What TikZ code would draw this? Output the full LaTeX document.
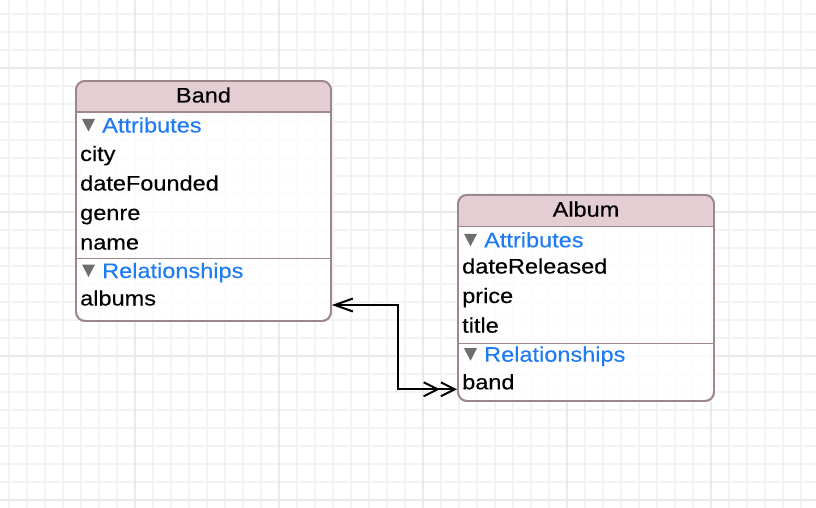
\documentclass[tikz,border=0pt]{standalone}
\usepackage{fontspec}
\setmainfont{Liberation Sans}[FakeStretch=1.12,FakeBold=0.25]
\usetikzlibrary{arrows.meta}
\definecolor{gridminor}{HTML}{F3F3F3}
\definecolor{gridmajor}{HTML}{EAEAEA}
\definecolor{headfill}{HTML}{E4CDD3}
\definecolor{boxline}{HTML}{9D878C}
\definecolor{secblue}{HTML}{1E7BF2}
\definecolor{trigray}{HTML}{6E6E6E}
\tikzset{
  entitybox/.style={draw=boxline, line width=1.8pt, rounded corners=9pt, fill=white, fill opacity=0.8, draw opacity=1, inner sep=0pt},
  headtext/.style={anchor=base, inner sep=0pt, font=\fontsize{21}{24}\selectfont, text=black},
  itemtext/.style={anchor=base west, inner sep=0pt, font=\fontsize{21}{24}\selectfont, text=black},
  sectext/.style={anchor=base west, inner sep=0pt, font=\fontsize{21}{24}\selectfont, text=secblue},
  divline/.style={draw=boxline, line width=1.8pt},
  rel/.style={draw=black, line width=2pt, line join=miter,
    arrows={Straight Barb[length=18pt,width=13pt]-Straight Barb[length=14pt,width=14pt,sep=0pt] Straight Barb[length=14pt,width=14pt,sep=0pt]}}
}
\newcommand{\disclosure}[2]{\fill[trigray] (#1,#2-13.5) -- (#1+13,#2-13.5) -- (#1+6.5,#2-1) -- cycle;}
\begin{document}
\begin{tikzpicture}[x=1pt,y=-1pt]
\useasboundingbox (0,0) rectangle (816,508);
\fill[white] (0,0) rectangle (816,508);
% grid
\foreach \i in {0,...,45} {\draw[gridminor, line width=1.5pt] (9+18*\i,0) -- (9+18*\i,508);}
\foreach \i in {0,...,27} {\draw[gridminor, line width=1.5pt] (0,14+18*\i) -- (816,14+18*\i);}
\foreach \xx in {135,279,423,567,711} {\draw[gridmajor, line width=1.6pt] (\xx,0) -- (\xx,508);}
\foreach \yy in {68,212,356,500} {\draw[gridmajor, line width=1.6pt] (0,\yy) -- (816,\yy);}

% Band entity
\node[entitybox, minimum width=255pt, minimum height=240pt] (bandbox) at (203.5,201) {};
\fill[headfill] (76.9,112) [rounded corners=8pt] -- (76.9,81.9) -- (330.1,81.9) [sharp corners] -- (330.1,112) -- cycle;
\draw[divline] (76,112) -- (331,112);
\draw[divline] (76,258.5) -- (331,258.5);
\draw[boxline, line width=1.8pt, rounded corners=9pt] (76,81) rectangle (331,321);
\node[headtext] (bandtitle) at (203.5,102.5) {Band};
\disclosure{82}{132.5}
\node[sectext] (bandattr) at (102,132.5) {Attributes};
\node[itemtext] (city) at (80,161) {city};
\node[itemtext] (datefounded) at (80,190.5) {dateFounded};
\node[itemtext] (genre) at (80,220) {genre};
\node[itemtext] (name) at (80,249.5) {name};
\disclosure{82}{278}
\node[sectext] (bandrels) at (102,278) {Relationships};
\node[itemtext] (albums) at (80,305.5) {albums};

% Album entity
\node[entitybox, minimum width=256pt, minimum height=206pt] (albumbox) at (586,298) {};
\fill[headfill] (458.9,226.5) [rounded corners=8pt] -- (458.9,195.9) -- (713.1,195.9) [sharp corners] -- (713.1,226.5) -- cycle;
\draw[divline] (458,226.5) -- (714,226.5);
\draw[divline] (458,343.5) -- (714,343.5);
\draw[boxline, line width=1.8pt, rounded corners=9pt] (458,195) rectangle (714,401);
\node[headtext] (albumtitle) at (586,216.7) {Album};
\disclosure{464}{247.3}
\node[sectext] (albumattr) at (484,247.3) {Attributes};
\node[itemtext] (datereleased) at (462,273.5) {dateReleased};
\node[itemtext] (price) at (462,303) {price};
\node[itemtext] (title) at (462,332.7) {title};
\disclosure{464}{361.7}
\node[sectext] (albumrels) at (484,361.7) {Relationships};
\node[itemtext] (bandrel) at (462,389.3) {band};

% relationship connector
\draw[rel] (bandbox.east |- 0,305) -- ++(66,0) |- (albumbox.west |- bandrel.base);
\end{tikzpicture}
\end{document}
